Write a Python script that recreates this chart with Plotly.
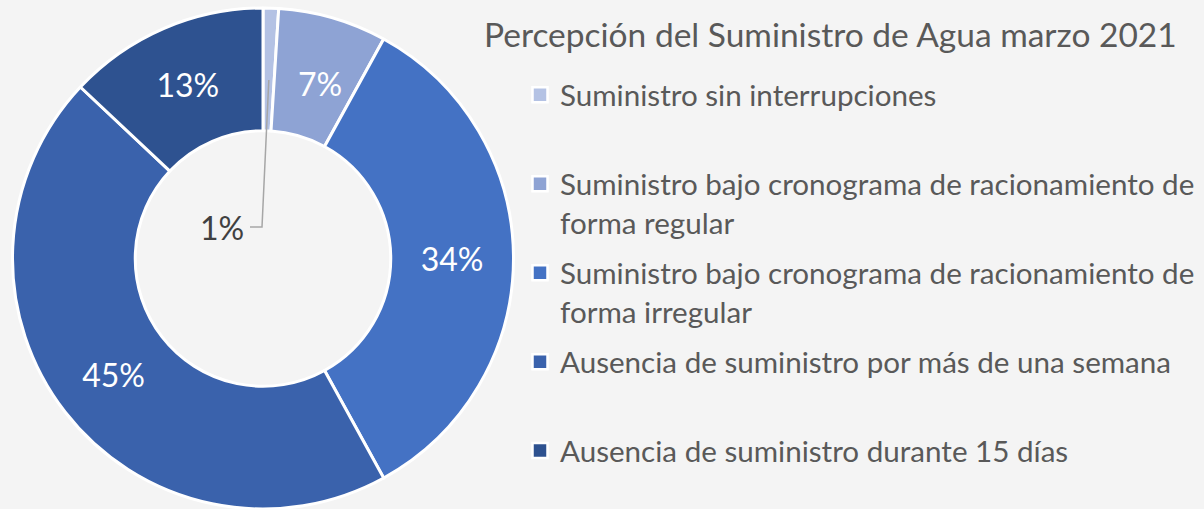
import math
import plotly.graph_objects as go

labels = [
    "Suministro sin interrupciones",
    "Suministro bajo cronograma de racionamiento de forma regular",
    "Suministro bajo cronograma de racionamiento de forma irregular",
    "Ausencia de suministro por más de una semana",
    "Ausencia de suministro durante 15 días",
]
legend_text = [
    "Suministro sin interrupciones<br> ",
    "Suministro bajo cronograma de racionamiento de<br>forma regular",
    "Suministro bajo cronograma de racionamiento de<br>forma irregular",
    "Ausencia de suministro por más de una semana<br> ",
    "Ausencia de suministro durante 15 días",
]
values = [1, 7, 34, 45, 13]
colors = ["#B4C2E4", "#8EA3D4", "#4472C4", "#3A62AC", "#2E5290"]
title_text = "Percepción del Suministro de Agua marzo 2021"

W, H = 1204, 509
mt, mb = 8, 0
dom_x = [0, 526 / W]
hole = 0.51
FONT = "Lato"

total = sum(values)
# plotly places the large labels; narrow slices get labels placed geometrically
texts = [f"{v}%" if v >= 10 else "" for v in values]

fig = go.Figure()
fig.add_trace(go.Pie(
    labels=labels,
    values=values,
    sort=False,
    direction="clockwise",
    rotation=0,
    hole=hole,
    marker=dict(colors=colors, line=dict(color="white", width=3)),
    text=texts,
    textinfo="text",
    textposition="inside",
    insidetextorientation="horizontal",
    insidetextfont=dict(color="white", size=32, family=FONT),
    domain=dict(x=dom_x, y=[0, 1]),
    hoverinfo="label+percent",
    showlegend=False,
))

# legend entries (one per category, each in its own group for spacing control)
for lab, lt, col in zip(labels, legend_text, colors):
    fig.add_trace(go.Scatter(
        x=[None], y=[None], mode="markers", name=lt,
        legendgroup=lab, hoverinfo="skip",
        marker=dict(symbol="square", size=15, color=col,
                    line=dict(color="white", width=2.5)),
    ))

# pie geometry (pixels)
ph = H - mt - mb
R = min(dom_x[1] * W, ph) / 2
cx = (dom_x[0] + dom_x[1]) / 2 * W
cy = mt + ph / 2


def px(x):
    return x / W


def py(y):
    return 1 - y / H


def mid_angle(i):
    start = sum(values[:i]) / total * 360
    return start + values[i] / total * 360 / 2


def polar(angle, r):
    return cx + r * math.sin(math.radians(angle)), cy - r * math.cos(math.radians(angle))


# labels for narrow-but-inside slices (5%..10%)
for i, v in enumerate(values):
    if 5 <= v < 10:
        lx, ly = polar(mid_angle(i), R * (1 + hole) / 2 + 2)
        fig.add_annotation(x=px(lx + 4), y=py(ly + 2), xref="paper", yref="paper",
                           text=f"{v}%", showarrow=False,
                           xanchor="center", yanchor="middle",
                           font=dict(size=32, color="white", family=FONT))

# leader-line label for the tiny slice
small_idx = 0
x0, y0 = polar(mid_angle(small_idx), R * 0.74)
x1 = cx - 1
y1 = cy - 36
x2 = x1 - 12
fig.add_shape(type="path",
              path=f"M {px(x0)} {py(y0)} L {px(x1)} {py(y1)} L {px(x2)} {py(y1)}",
              xref="paper", yref="paper",
              line=dict(color="#A6A6A6", width=1.5))
fig.add_annotation(x=px(x2 - 4), y=py(y1), xref="paper", yref="paper",
                   text=f"{values[small_idx]}%", showarrow=False,
                   xanchor="right", yanchor="middle",
                   font=dict(size=32, color="#404040", family=FONT))

fig.update_layout(
    width=W, height=H,
    margin=dict(l=0, r=0, t=mt, b=mb),
    paper_bgcolor="#F4F4F4",
    plot_bgcolor="rgba(0,0,0,0)",
    xaxis=dict(visible=False),
    yaxis=dict(visible=False),
    title=dict(text=title_text, x=484 / W, xanchor="left", y=1 - 35 / H, yanchor="middle",
               font=dict(size=33.5, color="#595959", family=FONT)),
    legend=dict(x=520 / W, xanchor="left", y=1 - 62 / H, yanchor="top",
                font=dict(size=29.6, color="#595959", family=FONT),
                valign="top", bgcolor="rgba(0,0,0,0)", itemclick=False,
                tracegroupgap=9, traceorder="grouped"),
    showlegend=True,
)

fig.write_html("out.html")
